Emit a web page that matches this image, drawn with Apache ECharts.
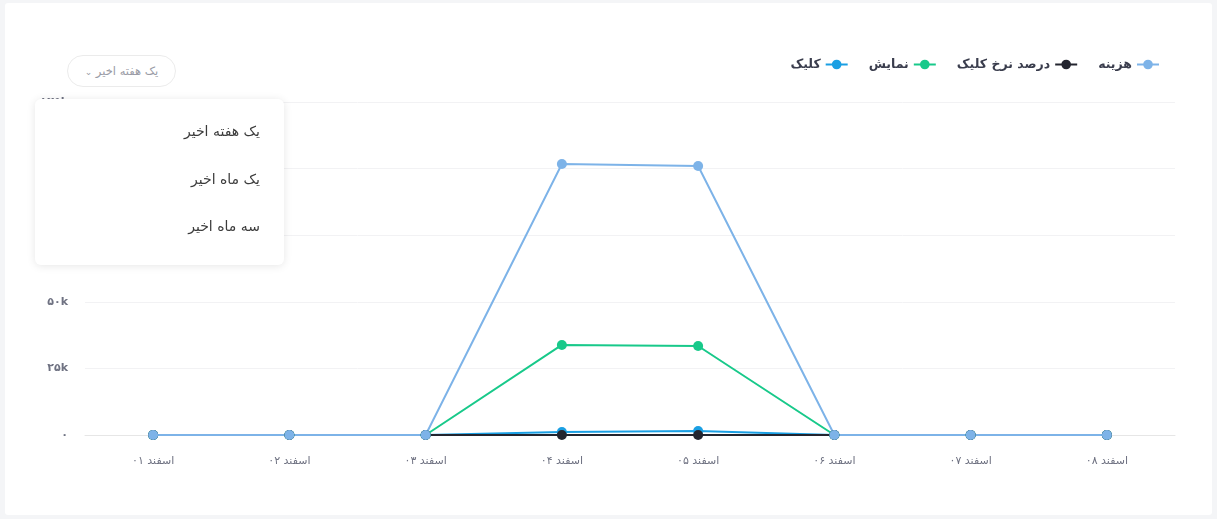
<!DOCTYPE html>
<html>
<head>
<meta charset="utf-8">
<script src="https://cdn.jsdelivr.net/npm/echarts@6/dist/echarts.min.js"></script>
<style>
  html, body { margin:0; padding:0; width:1217px; height:519px; background:#f4f5f7; overflow:hidden; font-family:"DejaVu Sans", sans-serif; }
  #card { position:absolute; left:5px; top:3px; width:1207px; height:512px; background:#fff; border-radius:3px; }
  #chart { position:absolute; left:0; top:0; width:1217px; height:519px; }
  #btn { position:absolute; left:67px; top:55px; width:109px; height:32px; border:1px solid #ebebeb; border-radius:16px; background:#fff;
         direction:rtl; font-size:11.5px; color:#9a9ca6; line-height:31px; text-align:center; box-sizing:border-box; }
  #menu { position:absolute; left:35px; top:99px; width:249px; height:166px; background:#fff; border-radius:6px;
          box-shadow:0 1px 8px rgba(0,0,0,0.10); direction:rtl; }
  #menu div { position:absolute; right:24px; font-size:14px; color:#3b3b3b; }
</style>
</head>
<body>
<div id="card"></div>
<div id="chart"></div>
<div id="btn">یک هفته اخیر <span style="font-size:9px;">&#8964;</span></div>
<div id="menu">
  <div style="top:24px;">یک هفته اخیر</div>
  <div style="top:72px;">یک ماه اخیر</div>
  <div style="top:119px;">سه ماه اخیر</div>
</div>
<script>
const categories = ['اسفند ۰۱','اسفند ۰۲','اسفند ۰۳','اسفند ۰۴','اسفند ۰۵','اسفند ۰۶','اسفند ۰۷','اسفند ۰۸'];
const clicks = [0, 0, 0, 1150, 1500, 0, 0, 0];
const impressions = [0, 0, 0, 33800, 33400, 0, 0, 0];
const ctr = [0, 0, 0, 0, 0, 0, 0, 0];
const cost = [0, 0, 0, 101700, 101000, 0, 0, 0];
const seriesNames = ['کلیک', 'نمایش', 'درصد نرخ کلیک', 'هزینه'];

function fa(s) { return String(s).replace(/[0-9]/g, d => '۰۱۲۳۴۵۶۷۸۹'[d]); }

const chart = echarts.init(document.getElementById('chart'), null, { renderer: 'canvas' });
const font = '"DejaVu Sans", sans-serif';
function mk(name, data, color) {
  return {
    name, type: 'line', data, symbol: 'circle', symbolSize: 10,
    lineStyle: { width: 2, color }, itemStyle: { color },
    emphasis: { disabled: true }
  };
}
chart.setOption({
  animation: false,
  textStyle: { fontFamily: font },
  legend: {
    top: 53, right: 52, align: 'right', itemGap: 20, itemWidth: 22, itemHeight: 12,
    textStyle: { fontFamily: font, fontWeight: 'bold', fontSize: 12.5, color: '#3a3d4d' },
    data: seriesNames
  },
  grid: { left: 85, right: 42, top: 102, bottom: 84 },
  xAxis: {
    type: 'category', data: categories, boundaryGap: true,
    axisLine: { lineStyle: { color: '#e6e6e6' } },
    axisTick: { show: false },
    axisLabel: { color: '#6f7282', fontSize: 11, margin: 21, fontFamily: font }
  },
  yAxis: {
    type: 'value', min: 0, max: 125000, interval: 25000,
    axisLine: { show: false }, axisTick: { show: false },
    splitLine: { lineStyle: { color: '#f2f2f4' } },
    axisLabel: { color: '#6f7282', fontSize: 11, margin: 17, fontWeight: 'bold', fontFamily: font,
      formatter: v => v === 0 ? fa(0) : fa(v / 1000) + 'k' }
  },
  series: [
    mk(seriesNames[0], clicks, '#1a9fe3'),
    mk(seriesNames[1], impressions, '#18c98a'),
    mk(seriesNames[2], ctr, '#23252f'),
    mk(seriesNames[3], cost, '#7db3e8')
  ]
});
</script>
</body>
</html>
